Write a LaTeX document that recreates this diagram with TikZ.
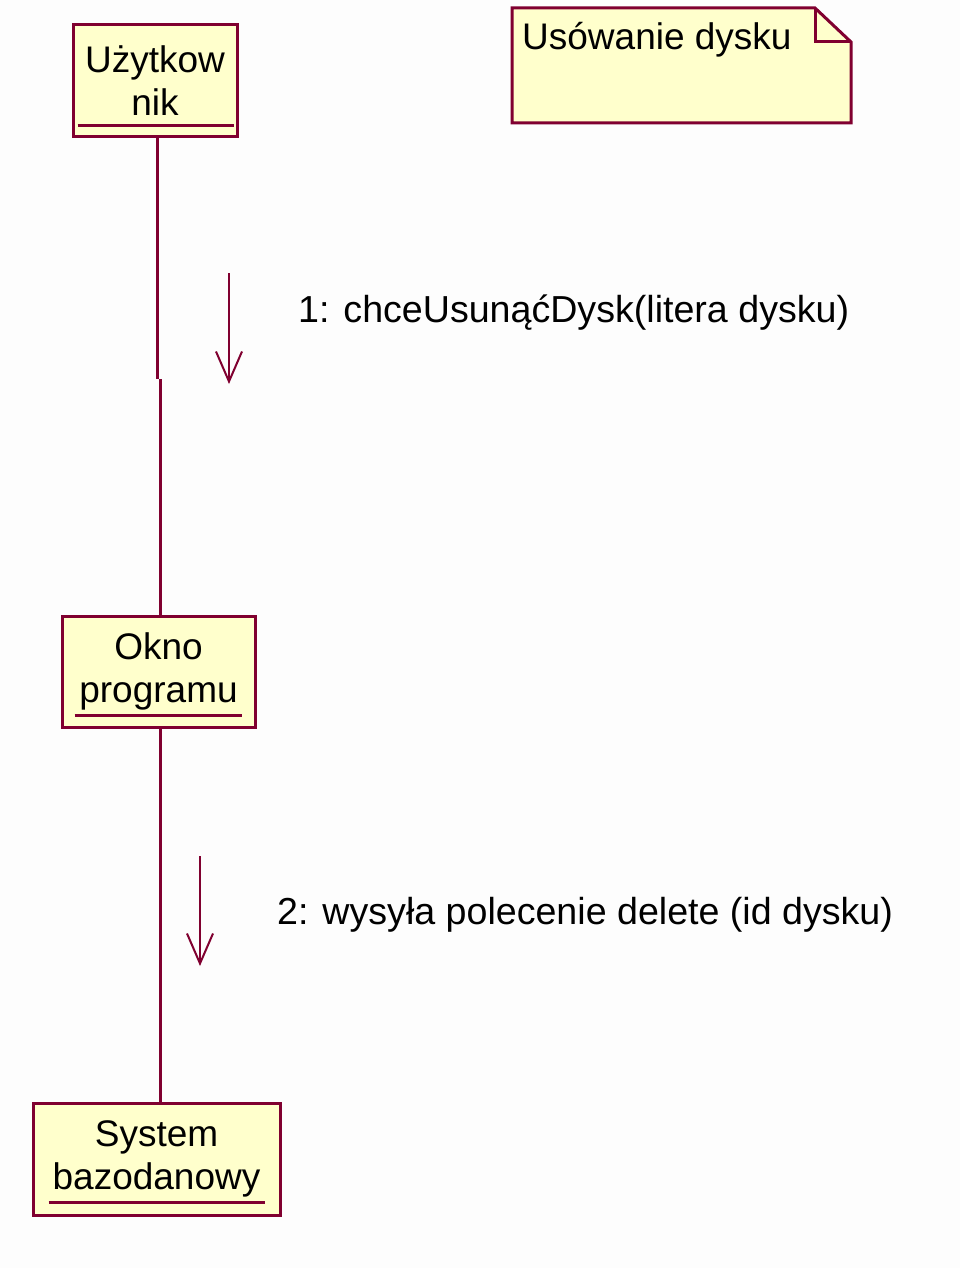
\documentclass[tikz,border=0pt]{standalone}
\usepackage{fontspec}
\setmainfont{Liberation Sans}
\usetikzlibrary{arrows.meta}
\definecolor{rose}{RGB}{128,0,48}
\definecolor{boxfill}{RGB}{255,255,204}
\definecolor{bgc}{RGB}{253,253,253}
\begin{document}
\begin{tikzpicture}[x=1pt,y=-1pt,
  obj/.style={draw=rose,fill=boxfill,line width=3pt,align=center,inner sep=0pt,
    font=\fontsize{37}{43}\selectfont},
  uline/.style={draw=rose,line width=3pt},
  life/.style={draw=rose,line width=3pt},
  msg/.style={draw=rose,line width=2pt,-{Straight Barb[length=30pt,width=26pt,line width=2pt]}},
  lbl/.style={inner sep=0pt,anchor=west,font=\fontsize{37.6}{43}\selectfont},
  notetxt/.style={inner sep=0pt,anchor=west,font=\fontsize{37}{43}\selectfont}]
\useasboundingbox[fill=bgc] (0,0) rectangle (960,1268);

% objects
\node[obj,minimum width=164pt,minimum height=112pt] (u) at (155,81) {Użytkow\\nik};
\node[obj,minimum width=193pt,minimum height=111pt] (o) at (158.5,671.5) {Okno\\programu};
\node[obj,minimum width=247pt,minimum height=112pt] (s) at (156.5,1159) {System\\bazodanowy};

% underlines
\draw[uline] ([xshift=6pt,yshift=13pt]u.south west) -- ([xshift=-5pt,yshift=13pt]u.south east);
\draw[uline] ([xshift=14pt,yshift=13pt]o.south west) -- ([xshift=-15pt,yshift=13pt]o.south east);
\draw[uline] ([xshift=17pt,yshift=14pt]s.south west) -- ([xshift=-17pt,yshift=14pt]s.south east);

% note
\draw[draw=rose,fill=boxfill,line width=3pt,line join=miter]
  (512,8) -- (815,8) -- (851,42) -- (851,123) -- (512,123) -- cycle;
\draw[draw=rose,line width=3pt] (815,8) -- (815,42) -- (851,42);
\node[notetxt] (note) at (522,40) {Usówanie dysku};

% lifelines
\coordinate (j1) at (157,379);
\coordinate (j2) at (160,379);
\draw[life] (u.south -| j1) -- (j1);
\draw[life] (j2) -- (o.north -| j2);
\draw[life] (o.south -| j2) -- (s.north -| j2);

% messages
\coordinate (m1s) at (229,273);
\coordinate (m1e) at (229,384);
\draw[msg] (m1s) -- (m1e);
\node[lbl] (l1) at (298,313) {1: chceUsunąćDysk(litera dysku)};

\coordinate (m2s) at (200,856);
\coordinate (m2e) at (200,966);
\draw[msg] (m2s) -- (m2e);
\node[lbl] (l2) at (277,915) {2: wysyła polecenie delete (id dysku)};
\end{tikzpicture}
\end{document}
